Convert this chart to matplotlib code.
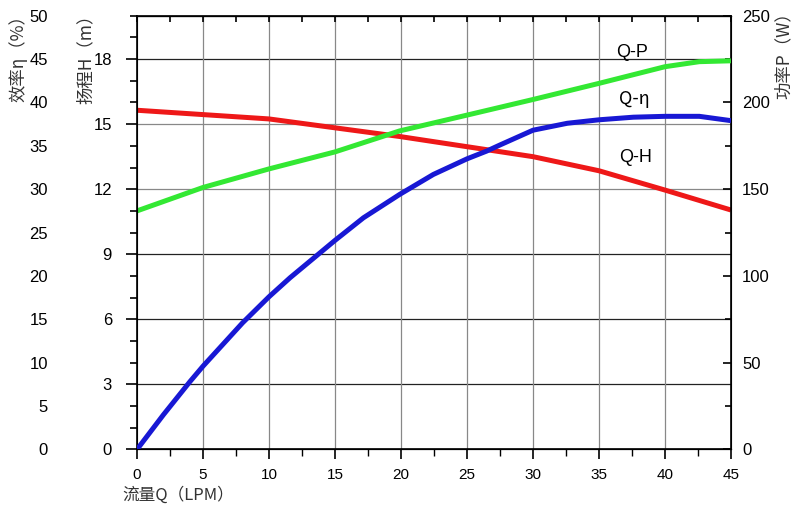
import matplotlib
matplotlib.use("Agg")
import matplotlib.pyplot as plt
from matplotlib.ticker import MultipleLocator

plt.rcParams['font.family'] = ['Liberation Sans', 'Noto Sans CJK SC', 'DejaVu Sans']
cjk = ['Noto Sans CJK SC', 'DejaVu Sans']

# Q-H curve (m)
q_h = [0, 5, 10, 15, 19.9, 25, 30, 35, 40, 45]
head = [15.64, 15.44, 15.24, 14.83, 14.43, 13.96, 13.5, 12.85, 11.96, 11.04]

# Q-P curve (W)
q_p = [0, 5, 10, 15, 19.9, 25, 30, 35, 40, 42.6, 45]
power = [137.5, 151.0, 161.7, 171.5, 183.6, 192.7, 201.7, 211.0, 220.6, 223.5, 224.0]

# Q-eta curve (%)
q_e = [0, 2.0, 4.0, 5.0, 8.0, 10, 11.6, 15, 17.15, 19.9, 22.45, 25, 26.5,
       27.5, 30, 32.6, 35, 37.6, 40, 42.6, 45]
eff = [0, 4.0, 7.8, 9.6, 14.6, 17.6, 19.8, 24.1, 26.7, 29.4, 31.7, 33.5, 34.4,
       35.1, 36.8, 37.6, 38.0, 38.3, 38.4, 38.4, 37.9]

h_grid_dark = [3, 6, 9, 18]
h_grid_light = [12, 15]
q_grid = [5, 10, 15, 20, 25, 30, 35, 40]

fig = plt.figure(figsize=(8, 5.11), dpi=100)
ax = fig.add_axes([0.17125, 0.1204, 0.7425, 0.8489])

for y in h_grid_dark:
    ax.axhline(y, color='#222222', lw=0.9, zorder=0)
for y in h_grid_light:
    ax.axhline(y, color='#888888', lw=0.9, zorder=0)
for x in q_grid:
    ax.axvline(x, color='#888888', lw=0.9, zorder=0)

ax.plot(q_h, head, color='#ee1818', lw=3.6, solid_capstyle='butt')
ax.set_xlim(0, 45)
ax.set_ylim(0, 20)
ax.xaxis.set_major_locator(MultipleLocator(5))
ax.xaxis.set_minor_locator(MultipleLocator(2.5))
ax.yaxis.set_minor_locator(MultipleLocator(1))
ax.set_yticks([0, 3, 6, 9, 12, 15, 18])
ax.tick_params(axis='y', which='major', direction='out', length=8, width=1.2,
               labelsize=12, pad=10)
ax.tick_params(axis='y', which='minor', direction='out', length=5, width=1.2)
ax.tick_params(axis='x', which='major', direction='out', length=7, width=1.2,
               labelsize=11, pad=6)
ax.tick_params(axis='x', which='minor', direction='out', length=5, width=1.0)
for s in ax.spines.values():
    s.set_linewidth(1.2)

top = ax.secondary_xaxis('top')
top.xaxis.set_major_locator(MultipleLocator(2.5))
top.tick_params(direction='in', length=4, width=1.2, labeltop=False)

# power axis on the right
ax_p = ax.twinx()
ax_p.plot(q_p, power, color='#33e833', lw=3.6, solid_capstyle='butt')
ax_p.set_ylim(0, 250)
ax_p.yaxis.set_major_locator(MultipleLocator(50))
ax_p.yaxis.set_minor_locator(MultipleLocator(25))
ax_p.tick_params(axis='y', which='major', direction='in', length=6, width=1.2,
                 labelsize=12, pad=8)
ax_p.tick_params(axis='y', which='minor', direction='in', length=4, width=1.2)

# efficiency axis, far left
ax_e = ax.twinx()
ax_e.yaxis.set_label_position('left')
ax_e.yaxis.tick_left()
ax_e.spines['left'].set_position(('outward', 60))
ax_e.spines['left'].set_visible(False)
ax_e.spines['right'].set_visible(False)
ax_e.plot(q_e, eff, color='#1818d4', lw=3.6, solid_capstyle='butt')
ax_e.set_ylim(0, 50)
ax_e.yaxis.set_major_locator(MultipleLocator(5))
ax_e.tick_params(axis='y', which='both', length=0, labelsize=12, pad=4)

ax.text(36.3, 18.29, 'Q-P', fontsize=13, ha='left', va='center')
ax.text(36.5, 16.17, 'Q-η', fontsize=13, ha='left', va='center', family=cjk)
ax.text(36.5, 13.47, 'Q-H', fontsize=13, ha='left', va='center')

fig.text(18 / 800, 1 - 6 / 511, '效率η（%）', rotation=90, ha='center', va='top',
         fontsize=12.5, family=cjk, color='#333333')
fig.text(86 / 800, 1 - 6 / 511, '扬程H（m）', rotation=90, ha='center', va='top',
         fontsize=12.5, family=cjk, color='#333333')
fig.text(784 / 800, 1 - 3 / 511, '功率P（W）', rotation=90, ha='center', va='top',
         fontsize=12.5, family=cjk, color='#333333')
fig.text(122 / 800, 1 - 495 / 511, '流量Q（LPM）', ha='left', va='center',
         fontsize=12, family=cjk, color='#333333')

fig.savefig('out.png', dpi=100)
